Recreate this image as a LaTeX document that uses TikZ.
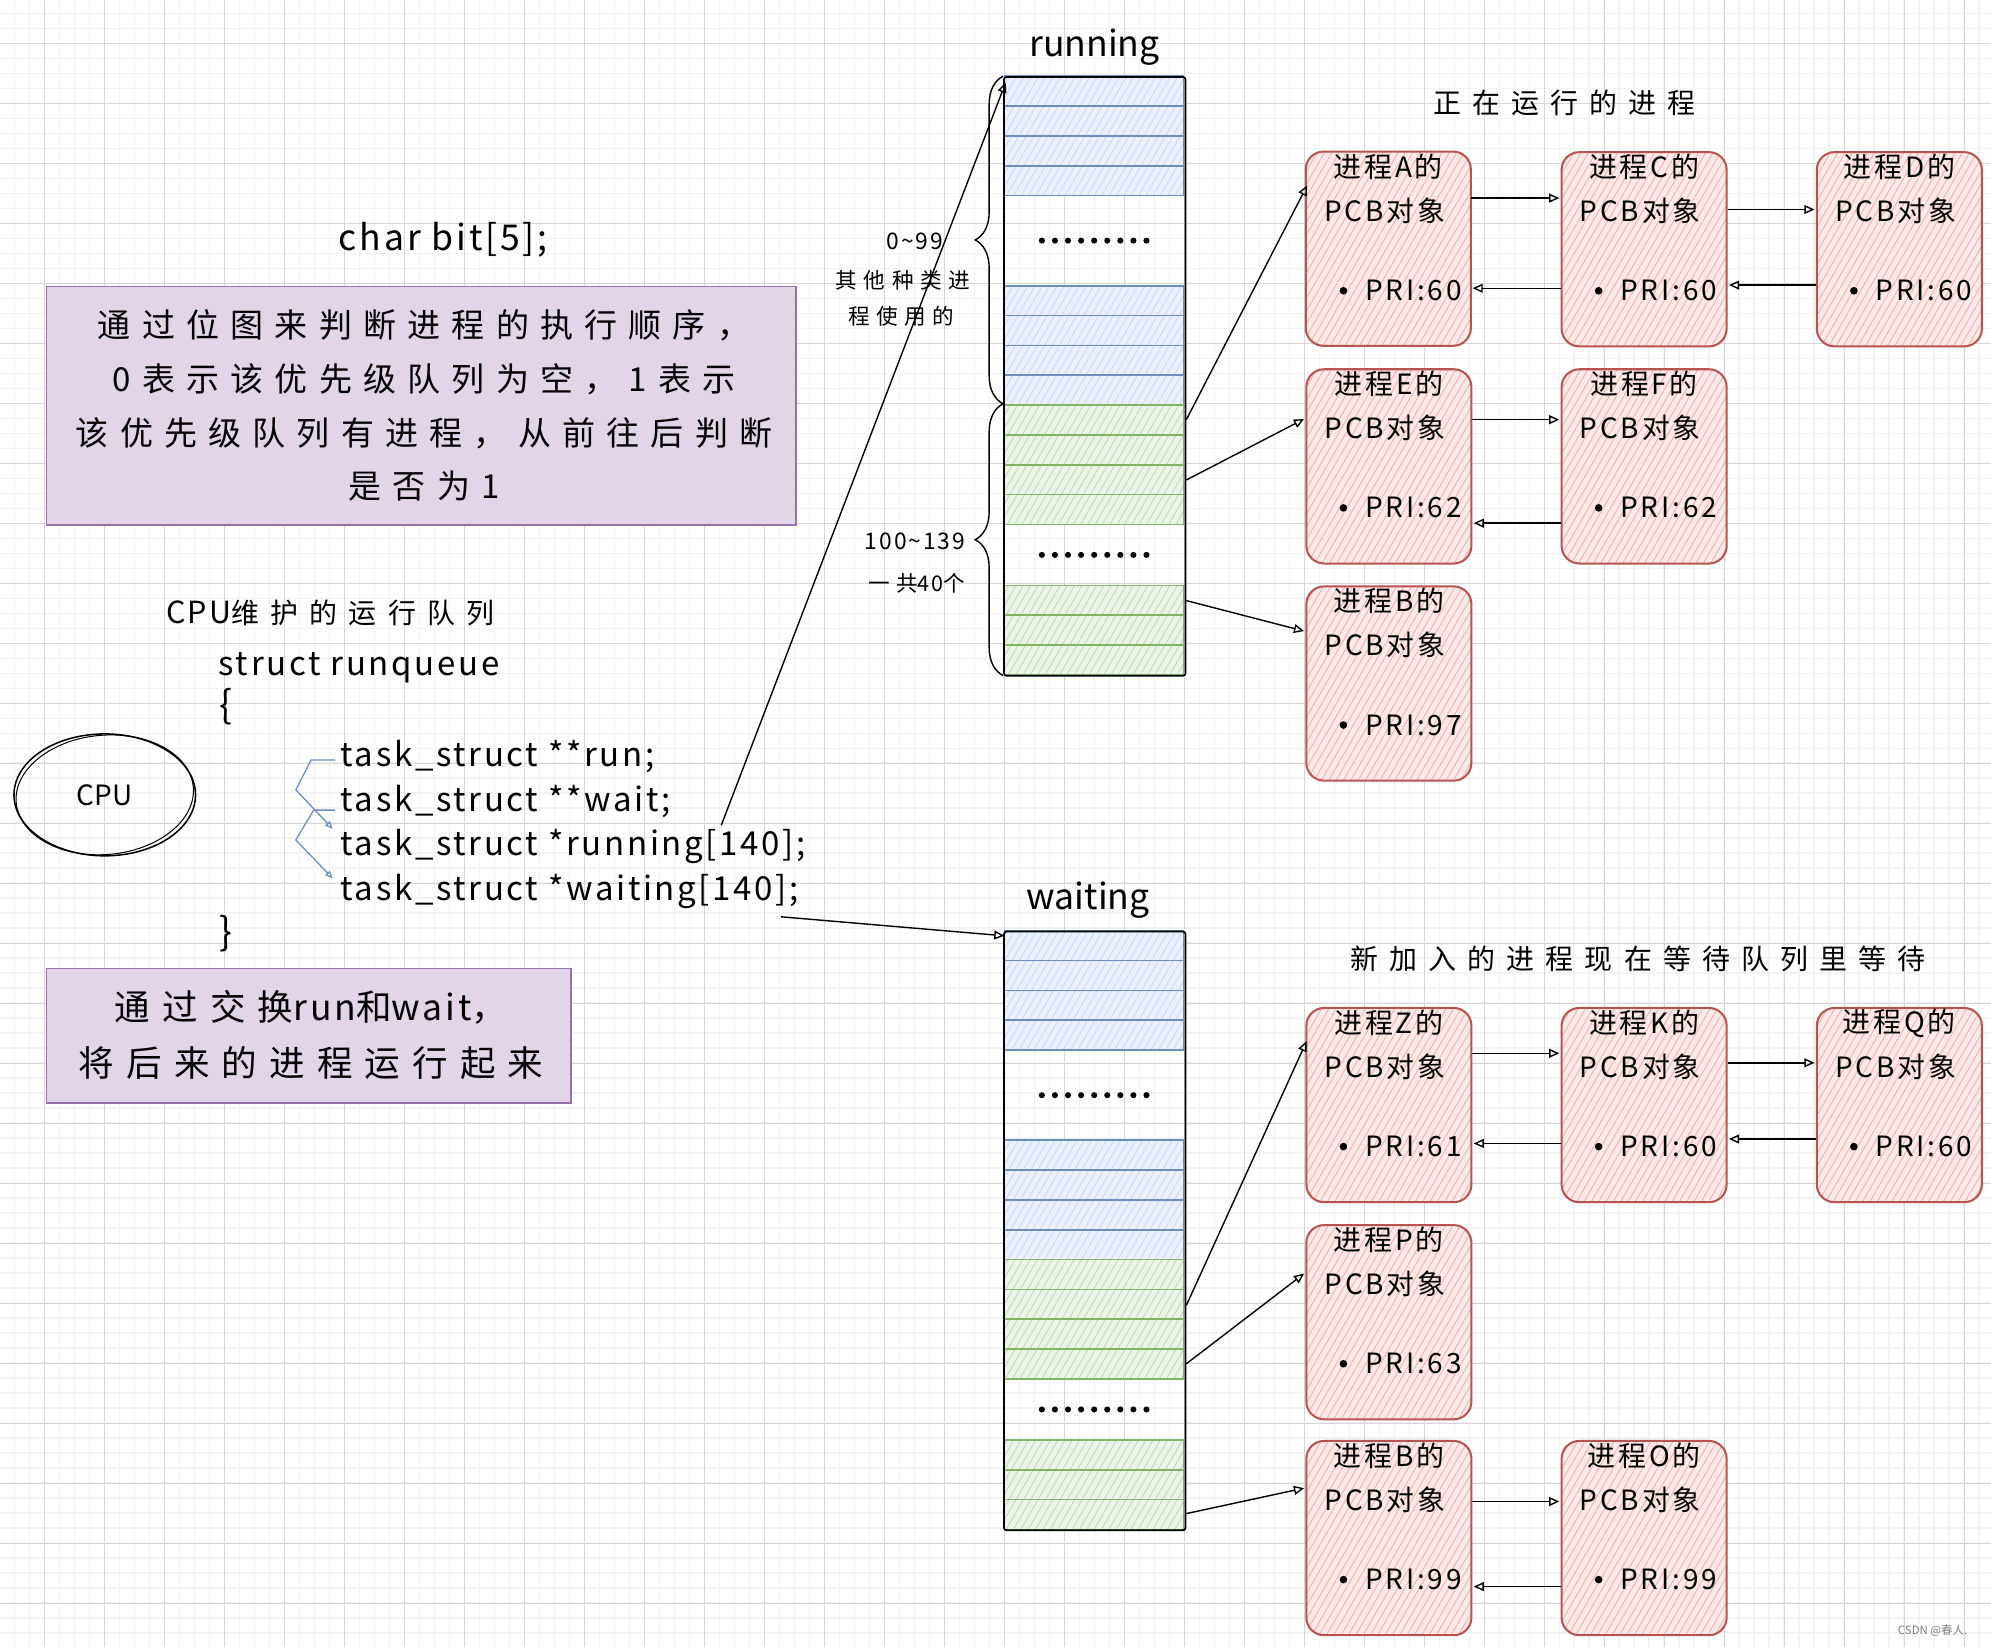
\documentclass[tikz,border=0pt]{standalone}
\usepackage{fontspec}
\setmainfont{Noto Sans CJK SC}
\newfontfamily\fA[LetterSpace=8]{Noto Sans CJK SC}
\newfontfamily\fP[LetterSpace=10]{Noto Sans CJK SC}
\newfontfamily\fB[LetterSpace=34]{Noto Sans CJK SC}
\newfontfamily\fT[LetterSpace=40]{Noto Sans CJK SC}
\newfontfamily\fS[LetterSpace=30]{Noto Sans CJK SC}
\usetikzlibrary{arrows.meta,patterns.meta,decorations.pathreplacing,calc,shapes.geometric}
\definecolor{blueF}{HTML}{EAF1FC}
\definecolor{blueH}{HTML}{C6D8F2}
\definecolor{blueS}{HTML}{6C8EBF}
\definecolor{greenF}{HTML}{EAF4E9}
\definecolor{greenH}{HTML}{B9DCAC}
\definecolor{greenS}{HTML}{82B366}
\definecolor{redF}{HTML}{FCE9E8}
\definecolor{redH}{HTML}{F0B2AF}
\definecolor{redS}{HTML}{B85450}
\definecolor{purF}{HTML}{E1D5E7}
\definecolor{purS}{HTML}{9673A6}
\definecolor{gMin}{HTML}{F3F3F3}
\definecolor{gMaj}{HTML}{D6D6D6}
\newcommand\fsz[1]{\fontsize{#1}{#1}\selectfont}
\tikzset{
  rowB/.style={draw=blueS, line width=1.3pt, preaction={fill=blueF},
    pattern={Lines[angle=60,distance=5pt,line width=0.6pt]}, pattern color=blueH},
  rowG/.style={draw=greenS, line width=1.3pt, preaction={fill=greenF},
    pattern={Lines[angle=60,distance=5pt,line width=0.6pt]}, pattern color=greenH},
  arrbox/.style={draw=black, line width=1.3pt, anchor=north west, inner sep=0pt,
    minimum width=143pt, minimum height=471.5pt, rounded corners=2pt},
  pcbbox/.style={anchor=north west, minimum width=130pt, minimum height=153pt,
    rounded corners=14pt, draw=redS, line width=1.6pt, inner sep=0pt,
    preaction={fill=redF},
    pattern={Lines[angle=60,distance=5pt,line width=0.7pt]}, pattern color=redH},
  pcbtxt/.style={font=\fP\fsz{22}, inner sep=0pt},
  purbox/.style={anchor=north west, draw=purS, fill=purF, line width=1.3pt, inner sep=0pt},
  conn/.style={draw=black, line width=1.1pt, -{Triangle[open,length=8pt,width=7pt]}},
  barrow/.style={draw=blueS, line width=1pt, -{Triangle[open,length=6pt,width=5pt]}},
  code/.style={font=\fA\fsz{26}, inner sep=0pt, anchor=west},
  ttl/.style={font=\fsz{28}, inner sep=0pt},
  note/.style={font=\fT\fsz{22}, inner sep=0pt},
  small/.style={font=\fS\fsz{17}, inner sep=0pt},
  smalld/.style={font=\fA\fsz{18}, inner sep=0pt},
}
\newcommand\pqarray[2]{%
  \foreach \dy in {0,23.5,47,70.5,165,188.5,212,235.5}
    \draw[rowB] (791,{#1+\dy}) rectangle ++(141,23.5);
  \foreach \dy in {259,282.5,306,329.5,401,424.5,448}
    \draw[rowG] (791,{#1+\dy}) rectangle ++(141,23.5);
  \foreach \k in {0,...,8} {
    \fill ({820.5+\k*10.3},{#1+129.5}) circle (2.4);
    \fill ({820.5+\k*10.3},{#1+377}) circle (2.4);}
  \node[arrbox] (#2) at (790,#1) {};
}
\newcommand\pcb[5]{%
  \node[pcbbox] (#1) at (#2,#3) {};
  \node[pcbtxt] (#1t1) at ($(#1.north)+(0,12.5)$) {进程#4的};
  \node[pcbtxt] (#1t2) at ($(#1.north)+(-3,47)$) {PCB对象};
  \fill ($(#1.north west)+(30,110)$) circle (3);
  \node[pcbtxt, anchor=west] (#1t3) at ($(#1.north west)+(47,110)$) {PRI:#5};
}
\begin{document}
\begin{tikzpicture}[x=1pt,y=-1pt]
\useasboundingbox (0,0) rectangle (1568,1297);
\fill[white] (0,0) rectangle (1568,1297);
% grid
\foreach \i in {0,...,133} \draw[gMin, line width=1.2pt] ({-0.53+\i*11.8125},0) -- ++(0,1297);
\foreach \j in {0,...,110} \draw[gMin, line width=1.2pt] (0,{-1.34+\j*11.8125}) -- ++(1568,0);
\foreach \i in {0,...,32} \draw[gMaj, line width=0.8pt] ({34.9+\i*47.25},0) -- ++(0,1297);
\foreach \j in {0,...,26} \draw[gMaj, line width=0.8pt] (0,{34.1+\j*47.25}) -- ++(1568,0);

% arrays
\node[ttl] (lblrun) at (862,37) {running};
\node[ttl] (lblwait) at (857,709) {waiting};
\pqarray{60}{runarr}
\pqarray{733}{waitarr}

% braces and labels
\draw[line width=1.1pt, decorate, decoration={brace, amplitude=22pt}] (790,318) -- (790,60);
\draw[line width=1.1pt, decorate, decoration={brace, amplitude=22pt}] (790,532) -- (790,318);
\node[smalld] (l099) at (720.6,190) {0\textasciitilde 99};
\node[small] (lother1) at (711,220.5) {其他种类进};
\node[small] (lother2) at (710,249.4) {程使用的};
\node[smalld] (l100) at (720.5,426.6) {100\textasciitilde 139};
\node[small] (l40) at (722,459.4) {一共{\fA 40}个};

% titles right
\node[note] (trunning) at (1232,81.4) {正在运行的进程};
\node[note] (twaiting) at (1290,755) {新加入的进程现在等待队列里等待};

% PCB boxes running
\pcb{pA}{1028}{119}{A}{60}
\pcb{pC}{1229}{119}{C}{60}
\pcb{pD}{1430}{119}{D}{60}
\pcb{pE}{1028}{290}{E}{62}
\pcb{pF}{1229}{290}{F}{62}
\pcb{pB}{1028}{461}{B}{97}
% PCB boxes waiting
\pcb{pZ}{1028}{793}{Z}{61}
\pcb{pK}{1229}{793}{K}{60}
\pcb{pQ}{1430}{793}{Q}{60}
\pcb{pP}{1028}{964}{P}{63}
\pcb{pBB}{1028}{1134}{B}{99}
\pcb{pO}{1229}{1134}{O}{99}

% connectors running
\draw[conn] ($(runarr.north east)+(0,270.5)$) -- ($(pA.north west)+(1.5,27)$);
\draw[conn] ($(runarr.north east)+(0,318)$) -- ($(pE.north west)+(-1,40)$);
\draw[conn] ($(runarr.north east)+(0,413)$) -- ($(pB.north west)+(-1,36)$);
\draw[conn] ($(pA.north east)+(0,37)$) -- ($(pC.north west)+(-1,37)$);
\draw[conn] ($(pC.north west)+(0,108)$) -- ($(pA.north east)+(1,108)$);
\draw[conn] ($(pC.north east)+(0,46)$) -- ($(pD.north west)+(-1,46)$);
\draw[conn] ($(pD.north west)+(0,105.5)$) -- ($(pC.north east)+(1,105.5)$);
\draw[conn] ($(pE.north east)+(0,40.5)$) -- ($(pF.north west)+(-1,40.5)$);
\draw[conn] ($(pF.north west)+(0,122)$) -- ($(pE.north east)+(1,122)$);
% connectors waiting
\draw[conn] ($(waitarr.north east)+(0,295)$) -- ($(pZ.north west)+(1,27)$);
\draw[conn] ($(waitarr.north east)+(0,341)$) -- ($(pP.north west)+(-1,39)$);
\draw[conn] ($(waitarr.north east)+(0,459)$) -- ($(pBB.north west)+(-1,38)$);
\draw[conn] ($(pZ.north east)+(0,36.5)$) -- ($(pK.north west)+(-1,36.5)$);
\draw[conn] ($(pK.north west)+(0,107.5)$) -- ($(pZ.north east)+(1,107.5)$);
\draw[conn] ($(pK.north east)+(0,44)$) -- ($(pQ.north west)+(-1,44)$);
\draw[conn] ($(pQ.north west)+(0,104)$) -- ($(pK.north east)+(1,104)$);
\draw[conn] ($(pBB.north east)+(0,48.5)$) -- ($(pO.north west)+(-1,48.5)$);
\draw[conn] ($(pO.north west)+(0,115.5)$) -- ($(pBB.north east)+(1,115.5)$);

% left side
\node[font=\fA\fsz{28}, inner sep=0pt] (charbit) at (349,189) {char bit[5];};
\node[purbox, minimum width=590pt, minimum height=188pt] (bm1) at (36,225) {};
\node[align=center, inner sep=0pt, font={\fB\fontsize{26}{42.3}\selectfont}] (bm1t) at (334,319.5)
  {通过位图来判断进程的执行顺序，\\0表示该优先级队列为空，1表示\\该优先级队列有进程，从前往后判断\\是否为1};
\node[note] (cpulbl) at (260,482.5) {{\fsz{24}\fA CPU}维护的运行队列};
\node[code] (sline) at (172,526) {struct runqueue};
\node[font=\fsz{30}, inner sep=0pt] (lbrace) at (178,556.5) {\{};
\node[code] (crun) at (268,596) {task\_struct **run;};
\node[code] (cwait) at (268,631.3) {task\_struct **wait;};
\node[code] (crunning) at (268,666.8) {task\_struct *running[140];};
\node[code] (cwaiting) at (268,702.2) {task\_struct *waiting[140];};
\node[font=\fsz{30}, inner sep=0pt] (rbrace) at (178,735) {\}};
\draw[barrow] ($(crun.west)+(-4,2.5)$) -- ++(-19,0) -- ++(-12,23.5) -- ($(crunning.west)+(-6,-14)$);
\draw[barrow] ($(cwait.west)+(-4,6.7)$) -- ++(-17,0) -- ++(-14,23.5) -- ($(cwaiting.west)+(-6,-10.5)$);

\coordinate (rs) at (568,650);
\coordinate (ws) at (615,722);
\draw[conn] (rs) -- ($(runarr.north west)+(2,5)$);
\draw[conn] (ws) -- ($(waitarr.north west)+(1,4)$);

% CPU
\node[draw, ellipse, minimum width=143pt, minimum height=96pt, line width=1.2pt, font=\fsz{22}] (cpu) at (82.5,626) {CPU};
\draw[line width=0.8pt, rotate around={5:(cpu.center)}] (cpu.center) ellipse [x radius=70, y radius=47];

% box 2
\node[purbox, minimum width=413pt, minimum height=106pt] (bm2) at (36,762) {};
\node[align=center, inner sep=0pt, font={\fB\fontsize{28}{44.5}\selectfont}] (bm2t) at (245,815)
  {通过交换{\fA run}和{\fA wait}，\\将后来的进程运行起来};

\node[text=gray, font=\fsz{9}, inner sep=0pt] (wm) at (1522,1284) {CSDN @春人.};
\end{tikzpicture}
\end{document}
